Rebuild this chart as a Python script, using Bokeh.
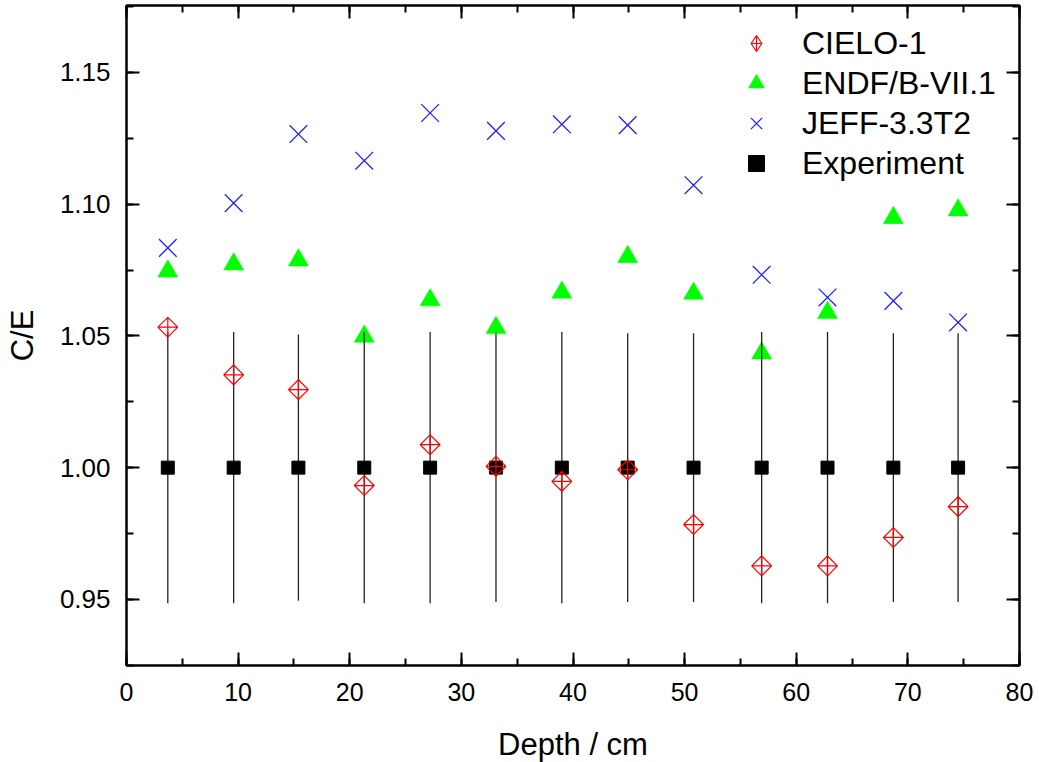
import math
from bokeh.plotting import figure
from bokeh.models import (LinearAxis, SingleIntervalTicker, PrintfTickFormatter,
                          Range1d, Legend, LegendItem, ColumnDataSource)
from bokeh.embed import file_html
from bokeh.resources import INLINE

# ---- data ----
depth = [3.7, 9.6, 15.4, 21.3, 27.2, 33.1, 39.0, 44.9, 50.8, 56.9, 62.8, 68.7, 74.5]
cielo = [1.0533, 1.0352, 1.0296, 0.9932, 1.0087, 1.0005, 0.9948, 0.9992, 0.9784, 0.9627, 0.9627, 0.9735, 0.9852]
endf = [1.0745, 1.0772, 1.0787, 1.0498, 1.0636, 1.0531, 1.0665, 1.0800, 1.0661, 1.0434, 1.0588, 1.0948, 1.0977]
jeff = [1.0834, 1.1004, 1.1266, 1.1165, 1.1346, 1.1278, 1.1303, 1.1300, 1.1072, 1.0732, 1.0646, 1.0633, 1.0551]
experiment = [1.0, 1.0, 1.0, 1.0, 1.0, 1.0, 1.0, 1.0, 1.0, 1.0, 1.0, 1.0, 1.0]
exp_err = [0.0515, 0.0515, 0.0505, 0.0515, 0.0515, 0.051, 0.0515, 0.051, 0.051, 0.0515, 0.0515, 0.051, 0.051]
series_labels = ["CIELO-1", "ENDF/B-VII.1", "JEFF-3.3T2", "Experiment"]
x_title = "Depth / cm"
y_title = "C/E"

FONT = "Liberation Sans"

exp_src = ColumnDataSource(dict(
    x=depth, y=experiment,
    lo=[e - d for e, d in zip(experiment, exp_err)],
    hi=[e + d for e, d in zip(experiment, exp_err)],
))

p = figure(frame_width=893, frame_height=660,
           x_range=Range1d(0, 80), y_range=Range1d(0.9249, 1.1754),
           output_backend="svg", toolbar_location=None,
           min_border_left=126, min_border_right=18, min_border_top=5, min_border_bottom=95)
p.background_fill_color = "white"
p.border_fill_color = "white"
p.grid.visible = False
p.outline_line_color = "black"
p.outline_line_width = 2

# axes styling
for ax in [p.xaxis[0], p.yaxis[0]]:
    ax.axis_line_width = 2
    ax.major_tick_line_width = 2
    ax.minor_tick_line_width = 2
    ax.major_tick_in = 13
    ax.major_tick_out = 0
    ax.minor_tick_in = 7
    ax.minor_tick_out = 0
    ax.major_label_text_font = FONT
    ax.major_label_text_color = "black"
    ax.axis_label_text_font = FONT
    ax.axis_label_text_font_size = "31px"
    ax.axis_label_text_font_style = "normal"
    ax.axis_label_text_color = "black"

p.xaxis[0].major_label_text_font_size = "25px"
p.yaxis[0].major_label_text_font_size = "26px"
p.xaxis[0].ticker = SingleIntervalTicker(interval=10, num_minor_ticks=2)
p.yaxis[0].ticker = SingleIntervalTicker(interval=0.05, num_minor_ticks=2)
p.yaxis[0].formatter = PrintfTickFormatter(format="%.2f")
p.xaxis[0].axis_label = x_title
p.yaxis[0].axis_label = y_title
p.yaxis[0].axis_label_text_align = "right"
p.xaxis[0].major_label_standoff = 17
p.xaxis[0].axis_label_standoff = 23
p.yaxis[0].major_label_standoff = 16
p.yaxis[0].axis_label_standoff = 17

# mirrored axes (ticks only)
top_ax = LinearAxis(ticker=SingleIntervalTicker(interval=10, num_minor_ticks=2))
right_ax = LinearAxis(ticker=SingleIntervalTicker(interval=0.05, num_minor_ticks=2))
for ax in [top_ax, right_ax]:
    ax.axis_line_width = 2
    ax.major_tick_line_width = 2
    ax.minor_tick_line_width = 2
    ax.major_tick_in = 13
    ax.major_tick_out = 0
    ax.minor_tick_in = 7
    ax.minor_tick_out = 0
    ax.major_label_text_font_size = "0px"
    ax.major_label_standoff = 0
p.add_layout(top_ax, "above")
p.add_layout(right_ax, "right")

# glyphs (draw order: ENDF, Experiment, CIELO, JEFF)
r_endf = p.scatter(depth, endf, marker="triangle", size=20,
                   fill_color="#00ff00", line_color="#00ff00", line_width=0.5)
r_err = p.segment(x0="x", y0="lo", x1="x", y1="hi", source=exp_src,
                  line_color="#222222", line_width=1.3)
r_exp = p.scatter(x="x", y="y", source=exp_src, marker="square", size=13,
                  fill_color="black", line_color="black")
r_cielo = p.scatter(depth, cielo, marker="square_x", size=14, angle=math.pi / 4,
                    fill_color=None, line_color="red", line_width=1.2)
r_jeff = p.scatter(depth, jeff, marker="x", size=25,
                   line_color="#2020ff", line_width=1.3)
# legend-only glyph for the diamond (hidden in the plot area)
r_cielo_leg = p.scatter(depth, cielo, marker="diamond_cross", size=14,
                        fill_color=None, line_color="red", line_width=1.2,
                        visible=False)

legend = Legend(items=[
    LegendItem(label=series_labels[0], renderers=[r_cielo_leg]),
    LegendItem(label=series_labels[1], renderers=[r_endf]),
    LegendItem(label=series_labels[2], renderers=[r_jeff]),
    LegendItem(label=series_labels[3], renderers=[r_exp]),
], location=(608, 482))
legend.border_line_color = None
legend.background_fill_alpha = 0
legend.inactive_fill_alpha = 0
legend.padding = 0
legend.margin = 0
legend.spacing = 0
legend.glyph_width = 44
legend.glyph_height = 40
legend.label_height = 40
legend.label_standoff = 24
legend.label_text_font = FONT
legend.label_text_font_size = "32px"
legend.label_text_color = "black"
p.add_layout(legend, "center")

open("out.html", "w").write(file_html(p, INLINE))
